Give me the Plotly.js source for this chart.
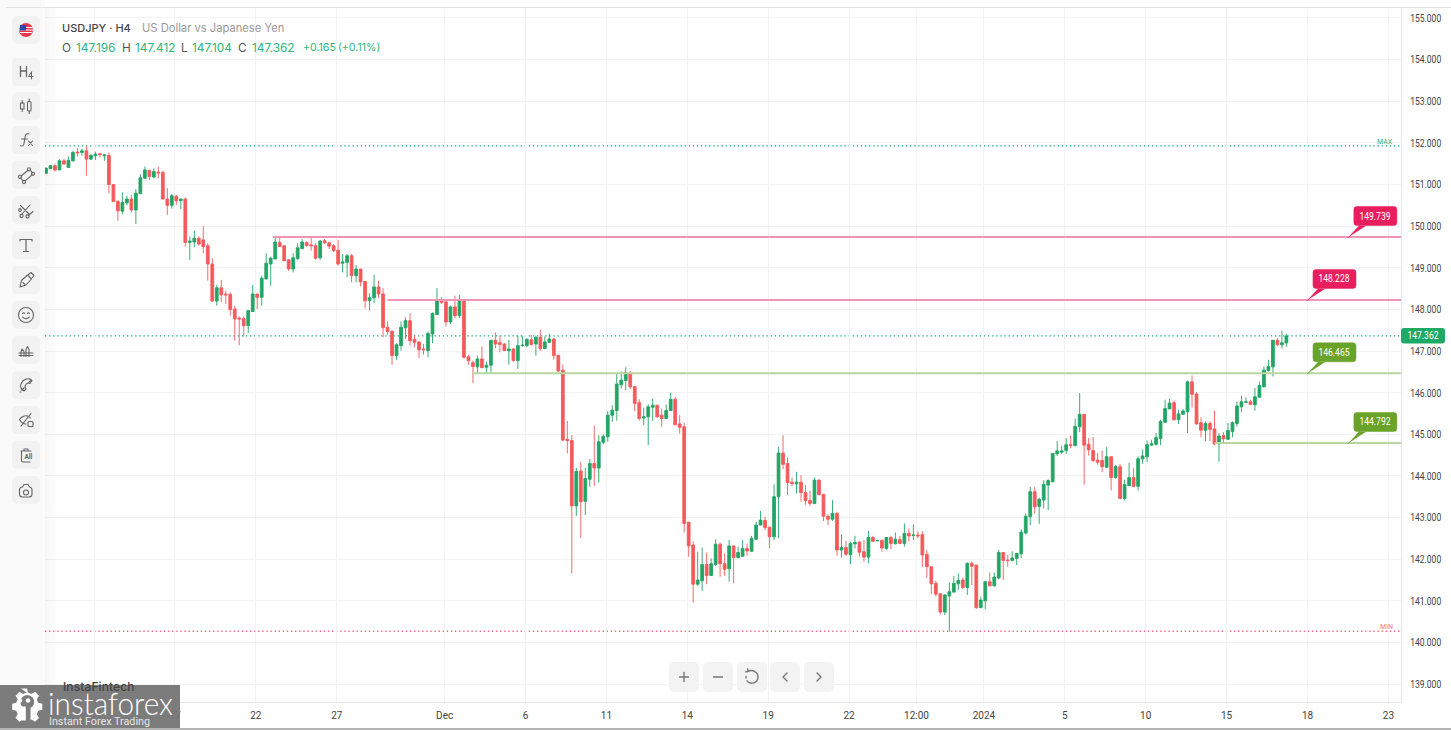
<!DOCTYPE html>
<html>
<head>
<meta charset="utf-8">
<script src="https://cdn.plot.ly/plotly-3.0.1.min.js"></script>
<style>
html,body{margin:0;padding:0;background:#fff;width:1451px;height:730px;overflow:hidden;font-family:Inter,sans-serif}
#chart{position:absolute;left:0;top:0;width:1451px;height:730px}
#panel{position:absolute;left:0;top:0;width:45px;height:730px;background:#fafafa}
#shade{position:absolute;left:45px;top:8px;width:14px;height:694px;background:linear-gradient(to right,rgba(0,0,0,.035),rgba(0,0,0,0));pointer-events:none}
#topline{position:absolute;left:6px;top:7px;width:1445px;height:1px;background:#e2e2e2}
#bottomstrip{position:absolute;left:0;top:728px;width:1451px;height:2px;background:#b4b4b4}
.btn{position:absolute;width:28px;height:28px;background:#f2f2f2;border-radius:5px}
.btn svg{position:absolute;left:0;top:0;width:28px;height:28px;fill:none;stroke:#666;stroke-width:1.1;stroke-linecap:round;stroke-linejoin:round}
.nav{position:absolute;width:30px;height:30px;top:662px;background:#f3f3f3;border-radius:5px}
.nav svg{position:absolute;left:0;top:0;width:30px;height:30px;fill:none;stroke:#777;stroke-width:1.4;stroke-linecap:round;stroke-linejoin:round}
#logo{position:absolute;left:0;top:685px;width:180px;height:43px}
#brand{position:absolute;left:63px;top:680px;font:500 12px/14px Inter,sans-serif;color:#444;letter-spacing:.1px}
</style>
</head>
<body>
<div id="panel"></div>
<div id="chart"></div>
<div id="shade"></div>
<div id="topline"></div>
<div id="tools"></div>
<div id="navs"></div>
<svg id="logo" viewBox="0 0 180 43" xmlns="http://www.w3.org/2000/svg">
  <rect x="0" y="0" width="180" height="43" fill="#757575" fill-opacity="0.95"/>
  <g fill="#fff" transform="translate(24,20.5)">
    <path d="M-3,-17 h6 l1,4 l3.5,1.5 l3.5,-2.2 l4,4 l-2.2,3.5 l1.5,3.5 l4,1 v6 l-4,1 l-1.5,3.5 l2.2,3.5 l-4,4 l-3.5,-2.2 l-1,0.5 v-12 a7,7 0 1 0 -6.5,0 v12 l-1,-0.5 l-3.5,2.2 l-4,-4 l2.2,-3.5 l-1.5,-3.5 l-4,-1 v-6 l4,-1 l1.5,-3.5 l-2.2,-3.5 l4,-4 l3.5,2.2 l3.5,-1.5 z"/>
    <circle cx="-4" cy="-5" r="2.2"/><circle cx="4" cy="-5" r="2.2"/><rect x="-1.8" y="1" width="3.6" height="14"/>
  </g>
  <text x="48" y="29.5" font-family="Lato, 'Open Sans', sans-serif" font-weight="300" font-size="31" fill="#fff" textLength="125" lengthAdjust="spacingAndGlyphs">instaforex</text>
  <text x="49" y="40" font-family="Roboto, sans-serif" font-size="11" fill="#e6e6e6" textLength="101" lengthAdjust="spacingAndGlyphs">Instant Forex Trading</text>
</svg>
<div id="brand">InstaFintech</div>
<div id="bottomstrip"></div>
<script>
// Candle values
var open_ = [
151.27,151.38,151.45,151.35,151.57,151.41,151.57,151.78,151.77,151.81,
151.61,151.69,151.74,151.69,151.70,151.00,150.60,150.36,150.56,150.65,
150.39,150.78,151.15,151.34,151.18,151.30,151.29,150.65,150.50,150.72,
150.61,150.65,149.61,149.62,149.71,149.67,149.53,149.09,148.20,148.52,
148.37,148.36,148.01,147.79,147.78,147.61,147.95,148.37,148.29,148.73,
149.09,149.21,149.61,149.53,149.19,148.97,149.22,149.46,149.61,149.55,
149.53,149.24,149.65,149.60,149.53,149.42,149.11,149.13,149.29,148.81,
148.97,148.67,148.21,148.28,148.54,148.37,147.57,147.48,146.89,147.13,
147.56,147.73,147.28,147.22,147.05,147.01,147.41,147.88,148.22,148.18,
147.70,148.06,147.85,148.20,146.86,146.72,146.62,146.81,146.61,146.66,
147.26,147.20,147.17,147.01,147.05,146.77,147.13,147.13,147.27,147.17,
147.33,147.06,147.21,147.29,146.90,146.54,144.88,144.85,143.28,144.12,
143.39,143.92,144.30,144.19,144.81,144.94,145.46,145.57,146.19,146.29,
146.47,146.15,145.76,145.39,145.42,145.65,145.70,145.46,145.38,145.57,
145.84,145.25,145.18,142.89,142.34,141.40,141.48,141.87,141.61,141.87,
142.36,141.89,141.77,142.32,142.04,142.07,142.26,142.19,142.48,142.82,
142.93,142.77,142.54,143.50,144.55,144.30,143.85,143.81,143.85,143.60,
143.41,143.34,143.90,143.56,143.03,142.96,143.10,142.22,142.28,142.11,
142.37,142.41,142.18,142.05,142.52,142.44,142.45,142.26,142.52,142.37,
142.47,142.38,142.62,142.57,142.58,142.59,142.12,141.82,141.42,141.17,
140.73,141.12,141.21,141.41,141.50,141.32,141.90,141.86,140.84,141.00,
141.46,141.36,141.55,142.16,141.98,141.97,142.02,142.13,142.63,143.02,
143.62,143.27,143.42,143.78,143.86,144.53,144.57,144.61,144.75,144.73,
145.18,145.48,144.76,144.61,144.38,144.37,144.21,144.46,143.96,144.22,
143.46,143.77,143.96,143.75,144.41,144.46,144.74,144.76,144.90,145.29,
145.61,145.76,145.35,145.48,145.54,146.26,145.97,145.28,145.10,145.26,
145.13,144.77,144.97,144.88,145.07,145.26,145.66,145.77,145.78,145.71,
145.89,146.14,146.53,146.62,147.26,147.15,147.196];
var close_ = [
151.39,151.45,151.35,151.57,151.49,151.58,151.77,151.76,151.81,151.61,
151.70,151.73,151.72,151.71,151.00,150.59,150.37,150.57,150.65,150.39,
150.79,151.16,151.35,151.19,151.31,151.28,150.65,150.50,150.73,150.61,
150.65,149.61,149.64,149.71,149.57,149.51,149.09,148.20,148.52,148.35,
148.35,148.00,147.77,147.77,147.61,147.97,148.37,148.29,148.75,149.11,
149.23,149.62,149.51,149.17,148.97,149.24,149.48,149.62,149.53,149.53,
149.23,149.64,149.60,149.52,149.41,149.09,149.14,149.29,148.81,148.97,
148.66,148.21,148.28,148.54,148.37,147.56,147.47,146.89,147.15,147.57,
147.73,147.25,147.21,147.03,147.03,147.42,147.90,148.22,148.17,147.70,
148.06,147.85,148.20,146.85,146.77,146.63,146.81,146.60,146.66,147.26,
147.17,147.16,147.01,147.05,146.77,147.13,147.14,147.28,147.16,147.33,
147.06,147.22,147.29,146.89,146.52,144.86,144.85,143.28,144.11,143.38,
143.94,144.30,144.19,144.82,144.95,145.46,145.58,146.21,146.30,146.48,
146.14,145.74,145.38,145.42,145.66,145.70,145.42,145.38,145.57,145.84,
145.23,145.17,142.86,142.32,141.40,141.50,141.87,141.61,141.89,142.36,
141.89,141.76,142.32,142.04,142.16,142.26,142.20,142.50,142.82,142.94,
142.76,142.54,143.50,144.55,144.28,143.84,143.82,143.85,143.60,143.41,
143.34,143.90,143.55,143.03,142.96,143.10,142.22,142.28,142.12,142.38,
142.40,142.17,142.05,142.52,142.43,142.45,142.27,142.52,142.38,142.48,
142.38,142.62,142.56,142.58,142.56,142.10,141.82,141.41,141.16,140.73,
141.14,141.22,141.42,141.49,141.32,141.90,141.83,140.84,141.02,141.46,
141.36,141.57,142.16,141.97,141.97,142.03,142.14,142.65,143.03,143.62,
143.26,143.44,143.80,143.89,144.54,144.60,144.60,144.75,144.73,145.19,
145.48,144.74,144.63,144.37,144.33,144.22,144.46,143.96,144.23,143.46,
143.79,143.96,143.75,144.41,144.48,144.75,144.77,144.92,145.31,145.62,
145.75,145.35,145.49,145.56,146.26,145.96,145.25,145.10,145.26,145.12,
144.77,144.96,144.89,145.09,145.28,145.68,145.78,145.78,145.72,145.90,
146.17,146.54,146.63,147.26,147.15,147.20,147.362];
var high_ = [
151.41,151.47,151.49,151.61,151.61,151.67,151.81,151.87,151.86,151.93,
151.73,151.79,151.76,151.73,151.77,151.00,150.60,150.81,150.73,150.75,
150.89,151.25,151.43,151.34,151.39,151.43,151.33,150.91,150.77,150.75,
150.67,150.69,149.75,149.89,149.75,150.00,149.59,149.23,148.59,148.71,
148.45,148.41,148.09,147.83,147.83,147.99,148.59,148.37,148.81,149.35,
149.27,149.75,149.71,149.53,149.21,149.35,149.59,149.69,149.63,149.75,
149.59,149.67,149.69,149.63,149.57,149.67,149.33,149.33,149.33,149.07,
148.97,148.67,148.39,148.83,148.69,148.51,147.71,147.48,147.19,147.71,
147.81,147.91,147.37,147.22,147.17,147.47,147.93,148.51,148.29,148.23,
148.09,148.33,148.35,148.20,146.91,146.77,146.89,147.11,146.75,147.26,
147.45,147.37,147.19,147.27,147.07,147.37,147.37,147.31,147.39,147.37,
147.51,147.35,147.41,147.31,146.90,146.68,145.32,144.98,144.20,144.34,
144.20,144.41,145.21,144.98,145.00,145.56,145.70,146.48,146.51,146.61,
146.52,146.15,145.84,145.64,145.72,145.86,145.70,145.62,145.72,146.00,
145.90,145.46,145.28,142.89,142.43,142.18,142.28,142.16,142.02,142.48,
142.40,142.14,142.46,142.32,142.30,142.46,142.38,142.56,142.90,143.16,
143.02,142.77,143.80,144.70,144.98,144.44,143.96,144.10,144.02,143.78,
143.64,143.96,143.92,143.56,143.08,143.42,143.14,142.60,142.44,142.42,
142.56,142.44,142.46,142.68,142.56,142.46,142.48,142.53,142.56,142.64,
142.56,142.86,142.74,142.84,142.67,142.67,142.22,141.82,141.48,141.17,
141.16,141.44,141.60,141.66,141.56,141.92,141.94,141.86,141.10,141.46,
141.68,141.68,142.22,142.16,142.10,142.19,142.14,142.72,143.10,143.74,
143.74,143.48,143.90,143.92,144.54,144.84,144.73,144.91,144.97,145.38,
145.99,145.48,144.91,144.93,144.55,144.61,144.69,144.46,144.27,144.29,
143.91,144.31,144.19,144.47,144.63,144.85,144.87,145.03,145.35,145.83,
145.85,145.81,145.59,145.61,146.29,146.41,146.01,145.41,145.31,145.31,
145.57,145.03,145.05,145.27,145.31,145.79,145.93,145.89,145.83,146.11,
146.27,146.63,146.79,147.26,147.31,147.49,147.412];
var low_ = [
151.25,151.37,151.31,151.35,151.49,151.41,151.55,151.67,151.69,151.21,
151.59,151.59,151.65,151.57,150.79,150.59,150.13,150.28,150.50,150.33,
150.05,150.77,151.13,151.11,151.15,151.15,150.65,150.27,150.42,150.51,
150.41,149.51,149.19,149.49,149.53,149.35,148.69,148.18,148.09,148.18,
148.13,147.85,147.25,147.14,147.35,147.43,147.95,148.01,148.09,148.73,
148.57,149.21,149.51,149.17,148.93,148.89,149.19,149.45,149.51,149.41,
149.19,149.19,149.57,149.45,149.38,149.05,148.89,148.77,148.65,148.65,
148.55,148.02,147.97,148.15,148.27,147.33,147.39,146.67,146.79,147.01,
147.29,147.13,147.09,146.83,146.91,146.85,147.19,147.87,148.13,147.59,
147.65,147.79,147.79,146.82,146.67,146.23,146.47,146.60,146.47,146.47,
147.07,146.97,147.01,146.67,146.75,146.57,147.11,147.09,147.13,146.89,
147.01,147.05,147.19,146.79,146.50,144.85,144.54,141.66,143.04,142.51,
143.06,143.74,143.76,143.84,144.76,144.82,145.30,145.33,146.10,146.06,
146.08,145.56,145.33,145.22,144.74,145.32,145.40,145.18,145.38,145.56,
145.22,145.02,142.64,142.06,140.96,141.36,141.24,141.40,141.60,141.84,
141.58,141.60,141.46,141.42,142.02,142.06,142.08,142.18,142.46,142.82,
142.70,142.26,142.46,142.51,144.16,143.54,143.76,143.58,143.38,143.31,
143.28,143.32,143.54,142.92,142.82,142.92,142.08,142.04,142.08,141.88,
142.26,142.06,141.94,141.90,142.42,142.43,142.18,142.23,142.24,142.36,
142.36,142.30,142.42,142.46,142.50,141.82,141.55,141.16,141.10,140.67,
140.66,140.26,141.20,141.26,141.28,141.14,141.38,140.80,140.82,140.80,
141.36,141.34,141.52,141.50,141.82,141.95,141.86,142.03,142.60,142.82,
143.10,142.85,143.22,143.18,143.86,144.48,144.53,144.53,144.67,144.71,
145.05,143.79,144.49,144.33,144.27,144.09,144.19,143.65,143.94,143.45,
143.41,143.75,143.73,143.65,144.29,144.33,144.73,144.73,144.74,145.27,
145.61,145.33,145.25,145.47,145.03,145.64,145.23,144.93,144.83,144.83,
144.74,144.34,144.77,144.87,144.93,145.19,145.53,145.75,145.70,145.57,
145.89,146.13,146.51,146.39,147.12,147.06,147.104];

// Time axis: candle counts for each date label
var xTickPos = [10.7,28.7,46.7,64.7,88.7,106.7,124.7,142.7,160.7,178.7,193.7,208.7,226.7,244.7,262.7,280.7,298.7];
var xTickLabels = ["","17","22","27","Dec","6","11","14","19","22","12:00","2024","5","10","15","18","23"];

// Horizontal levels
var levelPrice = [149.739,148.228,146.465,144.792];
var levelStart = [50.5,76,94.8,260];
var levelTagAt = [289.9,280.8,280.8,289.9];
var levelColor = ["#e91e5e","#e91e5e","#6aa329","#6aa329"];
var levelLine  = ["#f295b2","#f295b2","#b8d69e","#b8d69e"];

var lastPrice = 147.362, maxPrice = 151.93, minPrice = 140.27;

var xIdx = open_.map(function(_, i){ return i; });
var xMin = -0.22, xMax = 301.5;
var L = 45, R = 1401, T = 7, B = 702;
function px(x){ return (x - L) / (R - L); }
function py(y){ return (B - y) / (B - T); }
var TXT = "Inter, Roboto, sans-serif";

var shapes = [], annos = [];
function note(x, y, text, size, color, anchor, weight){
  annos.push({xref:'paper',yref:'paper',x:px(x),y:py(y),text:text,showarrow:false,xanchor:anchor||'left',yanchor:'middle',
    borderpad:0,font:{family:TXT,size:size,color:color,weight:weight||400}});
}
// dotted reference lines
[[maxPrice,'#14ad72'],[lastPrice,'#14ad72'],[minPrice,'#f2607e']].forEach(function(d){
  shapes.push({type:'line',xref:'x',yref:'y',x0:xMin,x1:xMax,y0:d[0],y1:d[0],layer:'below',line:{color:d[1],width:1.3,dash:'1.3px,2.8px'}});
});
// levels and callouts
function roundBox(x0,x1,y0,y1,r){
  return 'M'+(x0+r)+','+y0+' L'+(x1-r)+','+y0+' Q'+x1+','+y0+' '+x1+','+(y0+r)+' L'+x1+','+(y1-r)+' Q'+x1+','+y1+' '+(x1-r)+','+y1+
         ' L'+(x0+r)+','+y1+' Q'+x0+','+y1+' '+x0+','+(y1-r)+' L'+x0+','+(y0+r)+' Q'+x0+','+y0+' '+(x0+r)+','+y0+' Z';
}
levelPrice.forEach(function(p,i){
  shapes.push({type:'line',xref:'x',yref:'y',x0:levelStart[i],x1:xMax,y0:p,y1:p,line:{color:levelLine[i],width:2}});
  shapes.push({type:'path',xref:'x',yref:'y',xsizemode:'pixel',ysizemode:'pixel',xanchor:levelTagAt[i],yanchor:p,
    path:roundBox(5,48,11.5,30.5,3)+' M-1,-1 L11,12 L18,12 L1,1 Z',fillcolor:levelColor[i],line:{color:levelColor[i],width:0.5}});
  annos.push({xref:'x',yref:'y',x:levelTagAt[i],y:p,xshift:26.5,yshift:21,text:levelPrice[i].toFixed(3),showarrow:false,
    xanchor:'center',yanchor:'middle',font:{family:'Roboto, sans-serif',size:11,color:'#fff'}});
});
// last price tag on the axis
shapes.push({type:'path',xref:'paper',yref:'y',xsizemode:'pixel',ysizemode:'pixel',xanchor:1,yanchor:lastPrice,
  path:roundBox(0,44,-7.5,8,3),fillcolor:'#1fa866',line:{width:0}});
annos.push({xref:'paper',yref:'y',x:1,y:lastPrice,xshift:22,text:lastPrice.toFixed(3),showarrow:false,xanchor:'center',yanchor:'middle',
  font:{family:'Roboto, sans-serif',size:11,color:'#fff'}});
// MAX / MIN
annos.push({xref:'paper',yref:'y',x:px(1395),y:maxPrice,yshift:4,text:'MAX',showarrow:false,xanchor:'right',yanchor:'middle',font:{family:'Roboto, sans-serif',size:7,color:'#35b37e'}});
annos.push({xref:'paper',yref:'y',x:px(1395),y:minPrice,yshift:4,text:'MIN',showarrow:false,xanchor:'right',yanchor:'middle',font:{family:'Roboto, sans-serif',size:7,color:'#ef7a90'}});
// header
var G = '#2fb57a', D = '#555';
note(61,28,'USDJPY · H4',11,'#444','left',500);
note(141,28,'US Dollar vs Japanese Yen',11.2,'#9a9a9a');
[['O',61,D,11.8],['147.196',75,G,11.8],['H',121,D,11.8],['147.412',134,G,11.8],['L',180,D,11.8],['147.104',191,G,11.8],['C',237,D,11.8],['147.362',251,G,11.8],['+0.165',302,G,10.6],['(+0.11%)',337,G,10.6]].forEach(function(t){
  note(t[1],48,t[0],t[3],t[2]);
});

var trace = {type:'candlestick',x:xIdx,open:open_,high:high_,low:low_,close:close_,
  increasing:{line:{color:'#22a565',width:0.9},fillcolor:'#22a565'},
  decreasing:{line:{color:'#f45a5c',width:0.9},fillcolor:'#f45a5c'},
  whiskerwidth:0,hoverinfo:'skip',showlegend:false};

var layout = {
  width:1451,height:730,margin:{l:L,r:1451-R,t:T,b:730-B,pad:0},
  paper_bgcolor:'rgba(0,0,0,0)',plot_bgcolor:'#fff',showlegend:false,hovermode:false,dragmode:false,boxgap:0.12,
  font:{family:TXT},
  xaxis:{type:'linear',range:[xMin,xMax],tickmode:'array',tickvals:xTickPos,ticktext:xTickLabels,rangeslider:{visible:false},
    showgrid:true,gridcolor:'#f3f3f3',gridwidth:1,zeroline:false,showline:true,linecolor:'#e4e7ec',linewidth:1,
    ticks:'outside',ticklen:4,tickcolor:'rgba(0,0,0,0)',tickfont:{family:'Roboto, sans-serif',size:10,color:'#444'},tickangle:0},
  yaxis:{side:'right',type:'linear',range:[138.57,155.264],tickmode:'linear',tick0:139,dtick:1,tickformat:'.3f',
    showgrid:true,gridcolor:'#f3f3f3',gridwidth:1,zeroline:false,showline:true,linecolor:'#e4e7ec',linewidth:1,
    ticks:'outside',ticklen:6,tickcolor:'rgba(0,0,0,0)',tickfont:{family:'Roboto, sans-serif',size:11,color:'#444'}},
  shapes:shapes,annotations:annos
};
Plotly.newPlot('chart',[trace],layout,{displayModeBar:false,staticPlot:true}).then(function(){
  // narrow price labels, as in the reference
  var re = /^\d{3}\.\d{3}$/;
  document.querySelectorAll('#chart .ytick text').forEach(function(t){
    t.setAttribute('textLength','31'); t.setAttribute('lengthAdjust','spacingAndGlyphs');
  });
  document.querySelectorAll('#chart .annotation-text').forEach(function(t){
    if(re.test(t.textContent) && /255/.test(t.style.fill)){ t.setAttribute('textLength','31'); t.setAttribute('lengthAdjust','spacingAndGlyphs'); }
  });
});

// Toolbar icons
var icons = [
 '<circle cx="14" cy="14" r="7" fill="#e8384f" stroke="none"/><path d="M8 11.5h12M7.5 14h13M8.5 16.5h11" stroke="#fff" stroke-width="1"/><rect x="8" y="9" width="6" height="5.5" fill="#2a4aa8" stroke="none"/>',
 '<path d="M8.5 8.5v10M14.5 8.5v10M8.5 13h6" stroke-width="1.3"/><path d="M19.5 14l-3 4.5h4.5M19.5 14v7" stroke-width="1"/>',
 '<rect x="8.5" y="11" width="3.5" height="6"/><path d="M10.2 8.5v2.5M10.2 17v2.5"/><rect x="15.5" y="9.5" width="3.5" height="9.5" rx="1"/><path d="M17.2 7v2.5M17.2 19v2.5"/>',
 '<path d="M17 8c-2.5-1-3.5.5-3.8 2.5l-1.2 7c-.3 2-1.5 3-3.5 2.3M9.5 13h6"/><path d="M16.5 15l4 4.5M20.5 15l-4 4.5"/>',
 '<path d="M9 15L15.8 9.5M18.2 9.2L20.6 11.8M20 13.8L13.2 19.8M11 19.6L8.6 17"/><circle cx="17" cy="8.3" r="1.6"/><circle cx="21" cy="12.8" r="1.6"/><circle cx="12" cy="21" r="1.6"/><circle cx="8" cy="15.8" r="1.6"/>',
 '<path d="M8.5 9.5L17 18M9.5 18.5L18 9M16.5 19.5L21 15.5"/><circle cx="9.5" cy="20" r="1.6"/><circle cx="15.5" cy="20.5" r="1.6"/><circle cx="8" cy="14" r="1.4"/>',
 '<path d="M8 8.5h12M14 8.5v12M11.5 20.5h5M8 8.5v1.5M20 8.5v1.5" stroke-width="1.2"/>',
 '<path d="M8 21l1.5-6.5 6-5.5 4 4-5.5 6zM16.5 8.5l2.5-2 3 3-2 2.5M11 16.5l2 2"/>',
 '<circle cx="14" cy="14" r="7.5"/><path d="M10.5 12.5c.6-.8 1.6-.8 2.2 0M15.3 12.5c.6-.8 1.6-.8 2.2 0M10.5 16c1.8 2.2 5.2 2.2 7 0"/>',
 '<path d="M7 17h14M7 19.5h14M9 20.5l0-5 1.5-2 1.5 2v5M14 20.5v-7l1.5-3 1.5 3v7M8.5 17l1.5-4"/>',
 '<path d="M12 20l-3-3c-1.5-3 1-7 4-8.5 3-1.5 6-.5 7 1l-2 3-2-.5c-1.5 .5-3 2-3 4l1 2zM17 11l2.5-2M12 17l-2 2"/><path d="M8 21h1M9 19h1" stroke-dasharray="1 1"/>',
 '<path d="M7.5 13.5c2-3.5 7.5-5.5 11-1.5M7.5 13.5c1.5 3 4 4.5 6.5 4.5M9 20L19 7.5"/><rect x="16" y="15.5" width="5" height="5" rx="1"/>',
 '<path d="M9 10h10M12 10V8h4v2M9.5 10v9.5a1.5 1.5 0 0 0 1.5 1.5h7"/><text x="12.5" y="18" font-size="6.5" font-family="Roboto, sans-serif" stroke="none" fill="#666" font-weight="700">All</text>',
 '<path d="M10.5 11l1.5-2.5h4l1.5 2.5a3 3 0 0 1 2.5 3v4a3 3 0 0 1-3 3h-6.5a3 3 0 0 1-3-3v-4a3 3 0 0 1 2.5-3z"/><circle cx="14" cy="16.5" r="2.5"/>'
];
var iconY = [30,71.5,106,140,175,210,245,280,315,350,385,420,455,490];
var toolHtml = '';
icons.forEach(function(ic,i){
  toolHtml += '<div class="btn" style="left:12px;top:'+(iconY[i]-14)+'px"><svg viewBox="0 0 28 28">'+ic+'</svg></div>';
});
document.getElementById('tools').innerHTML = toolHtml;
var navIcons = [
 '<path d="M15 10.5v9M10.5 15h9"/>',
 '<path d="M10.5 15h9"/>',
 '<path d="M11 9.5c4-2.5 10 .2 10 5.5a6.2 6.2 0 0 1-11 3.9M11 9.5l-.3-2.5M11 9.5l-2.5.4M9 14.5v1.5" />',
 '<path d="M17 11l-4 4 4 4"/>',
 '<path d="M13 11l4 4-4 4"/>'
];
var navX = [669,703,736.5,770,803.5];
var navHtml = '';
navIcons.forEach(function(ic,i){
  navHtml += '<div class="nav" style="left:'+navX[i]+'px"><svg viewBox="0 0 30 30">'+ic+'</svg></div>';
});
document.getElementById('navs').innerHTML = navHtml;
</script>
</body>
</html>
